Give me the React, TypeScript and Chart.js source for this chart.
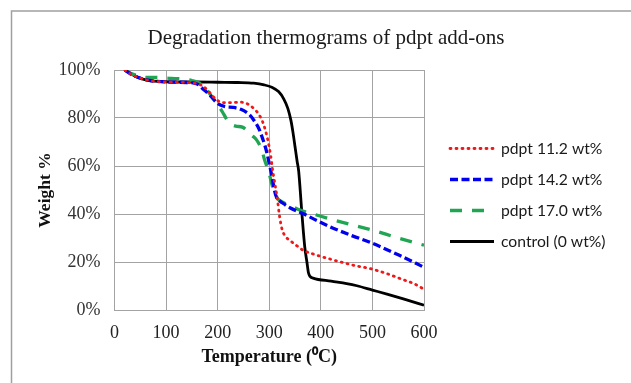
import React, { useEffect, useRef } from "react";
import { Chart, registerables } from "chart.js";

Chart.register(...registerables);

// ---- Text ----
const chartTitle = "Degradation thermograms of pdpt add-ons";
const xAxisTitle = "Temperature (⁰C)";
const yAxisTitle = "Weight %";
const seriesLabels = ["pdpt 11.2 wt%", "pdpt 14.2 wt%", "pdpt 17.0 wt%", "control (0 wt%)"];

// ---- Axis ticks ----
const xMin = 0;
const xMax = 600;
const xStep = 100;
const yMin = 0;
const yMax = 100;
const yStep = 20;

// ---- Series: pdpt 11.2 wt% ----
const tempP112 = [20, 30, 45, 60, 80, 100, 140, 160, 172, 182, 192, 202, 212, 225, 245, 262, 272, 280, 287, 293, 298, 303, 306, 309, 313, 316, 320, 325, 332, 340, 352, 365, 390, 425, 462, 500, 530, 555, 580, 600];
const weightP112 = [100, 98.5, 97, 96, 95.3, 95, 94.8, 94.3, 93.2, 91.2, 88.8, 87, 86.4, 86.4, 86.6, 85.4, 83.5, 81.5, 78.5, 74.5, 70, 64, 59, 55, 50, 45.8, 39, 33.5, 30.5, 29, 27, 25, 23, 20.8, 18.7, 17, 15, 13, 11, 8.7];

// ---- Series: pdpt 14.2 wt% ----
const tempP142 = [20, 30, 45, 60, 80, 100, 140, 160, 172, 185, 200, 215, 230, 245, 262, 272, 280, 287, 291, 296, 301, 304, 310, 314, 320, 325, 340, 365, 395, 425, 460, 500, 550, 600];
const weightP142 = [100, 98.5, 97, 96, 95.3, 95, 94.8, 94.2, 92, 89.5, 86, 84.7, 84.4, 83.6, 81.3, 78.5, 75.5, 71.5, 69, 65, 60, 57, 50, 47, 45.5, 44.7, 42.6, 40.2, 37, 34, 31, 27.8, 23, 17.8];

// ---- Series: pdpt 17.0 wt% ----
const tempP170 = [20, 30, 45, 56, 80, 110, 130, 150, 165, 175, 185, 195, 205, 212, 218, 225, 235, 248, 258, 266, 275, 285, 291, 296, 301, 305, 310, 316, 325, 340, 360, 390, 420, 460, 500, 550, 600];
const weightP170 = [100, 98.8, 97.6, 97, 96.9, 96.5, 96.3, 95.6, 94.5, 92.5, 90, 87, 84, 81.5, 79.3, 77.6, 76.6, 76.2, 74.5, 72.8, 71, 67, 62.5, 59.5, 56, 52.5, 49, 46.5, 45, 43.6, 41.6, 39.7, 37.8, 35.5, 33.3, 30, 27];

// ---- Series: control (0 wt%) ----
const tempControl = [20, 30, 40, 55, 70, 90, 120, 160, 200, 240, 270, 290, 305, 318, 328, 336, 342, 346, 350, 354, 357, 360, 363, 366, 369, 373, 376, 379, 385, 420, 450, 470, 500, 530, 560, 600];
const weightControl = [100, 98.8, 97.4, 96.2, 95.5, 95.2, 95, 95, 94.9, 94.8, 94.5, 93.8, 92.8, 91, 88, 84, 79, 74, 68, 62, 58, 50, 41, 33, 26, 20, 15.5, 14, 13.3, 12, 11, 10.1, 8.3, 6.5, 4.6, 2];

const toPoints = (xs: number[], ys: number[]) => xs.map((x, i) => ({ x, y: ys[i] }));

const SERIF = '"Liberation Serif", "Times New Roman", serif';
const SANS = 'Lato, "Liberation Sans", sans-serif';

const decorPlugin = {
  id: "decor",
  beforeDraw(chart: any) {
    const ctx = chart.ctx;
    ctx.save();
    ctx.fillStyle = "#ffffff";
    ctx.fillRect(0, 0, chart.width, chart.height);
    ctx.strokeStyle = "#a0a0a0";
    ctx.lineWidth = 1.5;
    ctx.strokeRect(11.5, 11, chart.width + 40, chart.height + 40);
    ctx.restore();
  },
  afterDraw(chart: any) {
    const ctx = chart.ctx;
    ctx.save();
    // title
    ctx.fillStyle = "#1a1a1a";
    ctx.font = `21px ${SERIF}`;
    ctx.textAlign = "center";
    ctx.textBaseline = "alphabetic";
    ctx.fillText(chartTitle, 326, 44);
    // legend
    const x0 = 450;
    const x1 = 494;
    const tx = 501;
    const y0 = 148.5;
    const dy = 31;
    ctx.font = `15.7px ${SANS}`;
    ctx.textAlign = "left";
    ctx.textBaseline = "middle";
    chart.data.datasets.forEach((ds: any, i: number) => {
      const y = y0 + i * dy;
      ctx.save();
      ctx.strokeStyle = ds.borderColor;
      ctx.lineWidth = ds.borderWidth;
      ctx.lineCap = ds.borderCapStyle || "butt";
      ctx.setLineDash(ds.borderDash || []);
      ctx.beginPath();
      ctx.moveTo(x0, y);
      ctx.lineTo(x1, y);
      ctx.stroke();
      ctx.restore();
      ctx.fillStyle = "#1a1a1a";
      ctx.fillText(ds.label, tx, y + 0.5);
    });
    ctx.restore();
  },
};

export default function App() {
  const ref = useRef<HTMLCanvasElement>(null);

  useEffect(() => {
    document.body.style.margin = "0";
    const canvas = ref.current;
    if (!canvas) return;
    const gridColor = "#a3a3a3";
    const chart = new Chart(canvas, {
      type: "line",
      data: {
        datasets: [
          {
            label: seriesLabels[0],
            data: toPoints(tempP112, weightP112),
            borderColor: "#f01818",
            borderWidth: 2.8,
            borderDash: [1, 5],
            borderCapStyle: "round",
            pointRadius: 0,
            fill: false,
            cubicInterpolationMode: "monotone",
          },
          {
            label: seriesLabels[1],
            data: toPoints(tempP142, weightP142),
            borderColor: "#0000ee",
            borderWidth: 3.3,
            borderDash: [8, 3.5],
            borderCapStyle: "butt",
            pointRadius: 0,
            fill: false,
            cubicInterpolationMode: "monotone",
          },
          {
            label: seriesLabels[2],
            data: toPoints(tempP170, weightP170),
            borderColor: "#20a552",
            borderWidth: 3.3,
            borderDash: [12, 10],
            borderCapStyle: "butt",
            pointRadius: 0,
            fill: false,
            cubicInterpolationMode: "monotone",
          },
          {
            label: seriesLabels[3],
            data: toPoints(tempControl, weightControl),
            borderColor: "#000000",
            borderWidth: 2.8,
            borderDash: [],
            borderCapStyle: "butt",
            pointRadius: 0,
            fill: false,
            cubicInterpolationMode: "monotone",
          },
        ],
      } as any,
      options: {
        responsive: false,
        animation: false,
        devicePixelRatio: 1,
        layout: { padding: { left: 0, right: 207, top: 70, bottom: 0 } },
        plugins: {
          legend: { display: false },
          title: { display: false },
          tooltip: { enabled: false },
        },
        scales: {
          x: {
            type: "linear",
            min: xMin,
            max: xMax,
            ticks: {
              stepSize: xStep,
              color: "#222222",
              font: { family: SERIF, size: 18 },
              padding: 12,
              maxRotation: 0,
            },
            grid: { color: gridColor, lineWidth: 1, drawTicks: false },
            border: { color: gridColor, width: 1 },
            title: {
              display: true,
              text: xAxisTitle,
              color: "#111111",
              font: { family: SERIF, size: 18, weight: "bold" },
              padding: { top: 0, bottom: 15 },
            },
            afterFit(scale: any) {
              scale.height = 73;
            },
          },
          y: {
            type: "linear",
            min: yMin,
            max: yMax,
            ticks: {
              stepSize: yStep,
              color: "#333333",
              font: { family: SERIF, size: 18 },
              padding: 14,
              callback: (v: any) => `${v}%`,
            },
            grid: { color: gridColor, lineWidth: 1, drawTicks: false },
            border: { color: gridColor, width: 1 },
            title: {
              display: true,
              text: yAxisTitle,
              color: "#111111",
              font: { family: SERIF, size: 17.5, weight: "bold" },
              padding: { top: 35, bottom: 0 },
            },
            afterFit(scale: any) {
              scale.width = 114.5;
            },
          },
        },
      } as any,
      plugins: [decorPlugin],
    });
    return () => chart.destroy();
  }, []);

  return (
    <div style={{ width: 631, height: 383 }}>
      <canvas ref={ref} width={631} height={383} style={{ display: "block" }} />
    </div>
  );
}
